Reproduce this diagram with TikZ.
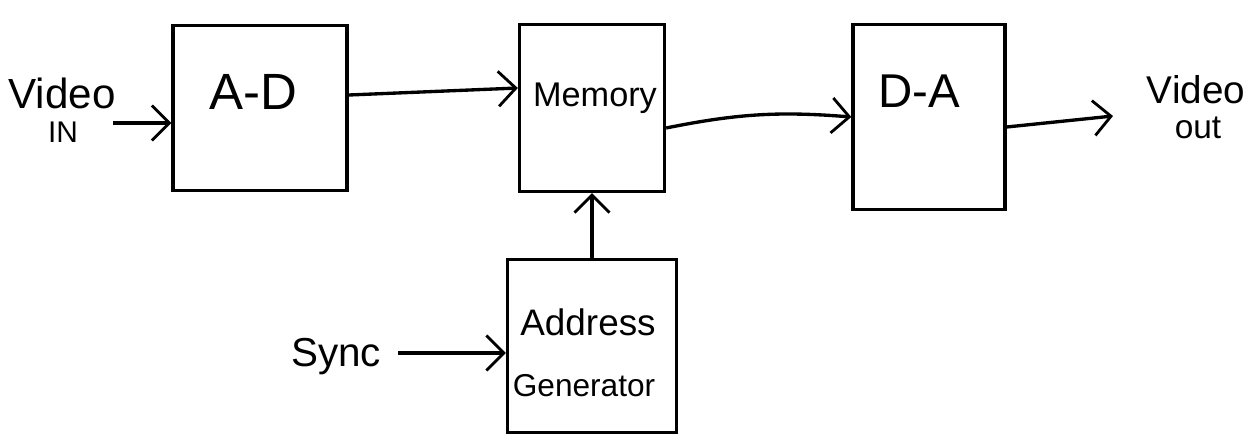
\documentclass[tikz,border=0pt]{standalone}
\usepackage{fontspec}
\setmainfont{Liberation Sans}
\usetikzlibrary{arrows.meta,positioning,calc}

\newcommand{\fs}[1]{\fontsize{#1}{#1}\selectfont}

\begin{document}
\begin{tikzpicture}
    [x=0.02cm, y=-0.02cm, line width=1.9pt,
     >={Straight Barb[length=3.5mm,width=7mm,line width=1.6pt]},
     block/.style={draw, minimum width=#1},
     tag/.style={inner sep=0pt}]
\useasboundingbox (0,0) rectangle (1260,447);

% the four blocks
\node[block=3.48cm, minimum height=3.3cm](ad) at (260,108){};
\node[block=2.9cm, minimum height=3.34cm](mem) at (592,108){};
\node[block=3.04cm, minimum height=3.7cm](da) at (929,117){};
\node[block=3.38cm, minimum height=3.46cm](addr) at (592,346){};

\node[tag](adtxt) at (253,92){\fs{29}A-D};
\node[tag](memtxt) at (595,98){\fs{19.5}Memory};
\node[tag](datxt) at (919,91){\fs{27}D-A};
\node[tag](addrtxt) at (588,322){\fs{21}Address};
\node[tag](gentxt) at (584,386){\fs{18}Generator};

% inputs and outputs
\node[tag](vin) at (62,93){\fs{24}Video};
\node[tag](vinsub) at (63,132){\fs{17}IN};
\node[tag](vout) at (1196,90){\fs{22}Video};
\node[tag](voutsub) at (1198,128){\fs{19}out};
\node[tag](sync) at (336,357){\fs{23}Sync};

\coordinate (vinend) at (113,123);
\coordinate (voutend) at (1113,116);
\coordinate (syncend) at (398,353);

\draw[->] (vinend) -- (vinend -| ad.west);
\draw[->] ([yshift=0.26cm]ad.east) -- ([yshift=0.4cm]mem.west);
\draw[->] ([yshift=-0.4cm]mem.east) to[bend left=8] (da.west);
\draw[->] ([yshift=-0.2cm]da.east) -- (voutend);
\draw[->] (addr.north) -- (mem.south);
\draw[->] (syncend) -- (syncend -| addr.west);
\end{tikzpicture}
\end{document}
